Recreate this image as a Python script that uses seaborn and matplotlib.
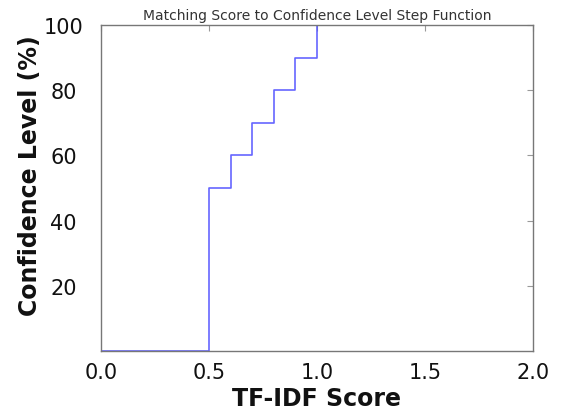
import pandas as pd
import seaborn as sns
import matplotlib
matplotlib.use("Agg")
import matplotlib.pyplot as plt

# score thresholds and the confidence level reached at each
tfidf_score = [0.0, 0.5, 0.6, 0.7, 0.8, 0.9, 1.0]
confidence = [0, 50, 60, 70, 80, 90, 100]
x_ticks = [0.0, 0.5, 1.0, 1.5, 2.0]
y_ticks = [20, 40, 60, 80, 100]

df = pd.DataFrame({"TF-IDF Score": tfidf_score, "Confidence Level (%)": confidence})

sns.set_theme(style="white")
plt.rcParams['font.family'] = ['DejaVu Sans']

fig = plt.figure(figsize=(5.68, 4.10), dpi=100)
ax = fig.add_axes([0.178, 0.1415, 0.76, 0.795])

sns.lineplot(data=df, x="TF-IDF Score", y="Confidence Level (%)", ax=ax,
             drawstyle="steps-post", color="#5555ff", linewidth=1.2, alpha=0.9)

ax.set_xlim(0, 2)
ax.set_ylim(0, 100)
ax.set_xticks(x_ticks)
ax.set_xticklabels([f"{t:.1f}" for t in x_ticks])
ax.set_yticks(y_ticks)

for s in ax.spines.values():
    s.set_color("#777777")
    s.set_linewidth(1.0)

ax.tick_params(axis="both", direction="in", length=4, width=0.8, color="#999999",
               top=True, right=True, labelsize=15, labelcolor="#111111")
ax.tick_params(axis="x", pad=8)
# y tick labels are centred in their column
ax.tick_params(axis="y", pad=27)
for lbl in ax.get_yticklabels():
    lbl.set_horizontalalignment("center")

ax.set_xlabel("TF-IDF Score", fontsize=17, fontweight="bold", color="#111111", labelpad=3)
ax.set_ylabel("Confidence Level (%)", fontsize=17, fontweight="bold", color="#111111")
ax.yaxis.set_label_coords(-0.138, 0.54)
ax.set_title("Matching Score to Confidence Level Step Function", fontsize=10,
             color="#333333", pad=4)

fig.savefig("out.png", dpi=100)
